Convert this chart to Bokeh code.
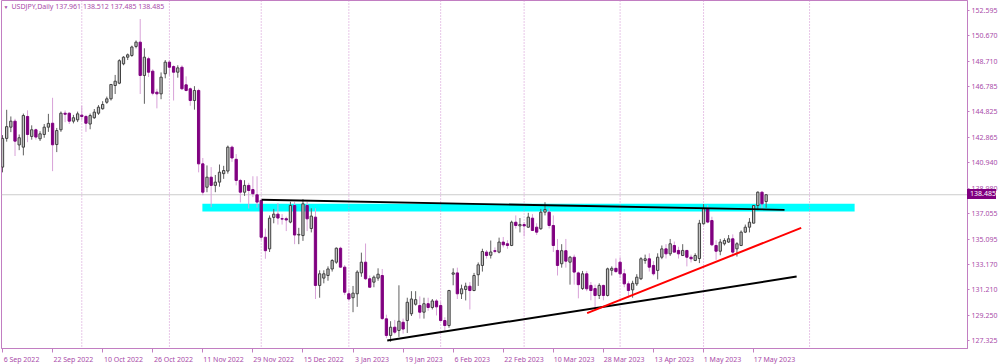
from bokeh.plotting import figure
from bokeh.models import (Range1d, FixedTicker, LinearAxis, PrintfTickFormatter,
                          Span, BoxAnnotation, Label, ColumnDataSource, Div)
from bokeh.embed import file_html
from bokeh.resources import INLINE

# ---------------- data ----------------
symbol_title = "USDJPY,Daily"
title_ohlc = "137.961 138.512 137.485 138.485"

opens = [140.60, 142.80, 143.66, 144.12, 142.30, 142.13, 144.48, 142.95, 143.46, 142.77,
         143.10, 143.66, 143.96, 142.33, 143.46, 144.73, 144.73, 144.12, 144.22, 144.58,
         144.48, 143.90, 144.38, 144.73, 145.07, 145.57, 145.83, 146.85, 147.03, 148.51,
         149.02, 149.15, 149.84, 150.17, 147.62, 148.90, 147.95, 146.34, 146.21, 147.75,
         148.64, 148.30, 147.87, 148.25, 146.90, 146.60, 145.70, 146.47, 140.85, 139.06,
         139.83, 139.20, 139.45, 140.10, 140.30, 142.13, 141.20, 139.58, 138.68, 139.20,
         138.88, 138.48, 138.05, 135.23, 134.34, 136.75, 137.00, 136.65, 136.65, 136.39,
         137.66, 135.40, 135.36, 137.66, 135.90, 136.77, 131.54, 132.10, 132.30, 132.80,
         133.32, 134.39, 132.94, 130.90, 130.60, 130.90, 132.50, 133.32, 132.05, 131.79,
         132.10, 132.30, 128.98, 127.71, 128.34, 128.09, 128.72, 128.85, 129.37, 130.10,
         130.00, 129.49, 130.14, 129.85, 130.35, 130.00, 128.85, 128.47, 132.40, 132.50,
         130.90, 131.23, 131.48, 131.15, 132.36, 133.07, 134.09, 133.85, 134.20, 134.09,
         134.86, 134.73, 134.60, 136.38, 136.10, 136.20, 136.00, 136.69, 136.00, 135.88,
         137.15, 137.15, 136.13, 134.22, 133.20, 134.20, 133.32, 133.70, 132.50, 131.30,
         132.43, 131.54, 131.30, 130.77, 131.54, 130.77, 132.70, 132.85, 133.32, 132.43,
         131.66, 131.20, 131.66, 132.05, 133.45, 133.58, 133.07, 132.69, 133.70, 134.34,
         133.96, 134.60, 134.22, 133.83, 134.22, 133.70, 133.45, 133.60, 136.26, 137.41,
         136.51, 134.60, 134.16, 134.73, 134.86, 135.11, 134.34, 134.60, 135.62, 136.00,
         136.31, 137.66, 138.68, 137.961]
highs = [143.05, 144.99, 144.48, 144.30, 143.10, 144.70, 144.95, 143.80, 143.55, 143.35,
         143.90, 144.68, 145.91, 143.60, 144.86, 144.94, 144.80, 144.60, 144.85, 145.30,
         144.60, 144.70, 145.05, 145.35, 145.65, 146.00, 146.95, 147.66, 148.86, 149.10,
         149.30, 149.90, 150.30, 151.94, 149.70, 149.05, 148.10, 146.60, 147.85, 148.80,
         148.80, 148.40, 148.40, 148.40, 147.55, 146.70, 146.80, 146.60, 141.30, 140.73,
         140.60, 140.00, 140.80, 140.70, 142.25, 142.25, 141.60, 139.70, 139.60, 139.40,
         139.90, 139.90, 138.15, 135.90, 136.90, 137.40, 137.85, 137.00, 136.80, 137.95,
         137.95, 135.95, 138.15, 137.95, 137.45, 137.45, 132.70, 132.70, 133.00, 133.55,
         134.45, 134.50, 133.10, 131.20, 131.50, 132.70, 134.05, 134.75, 132.30, 132.30,
         132.85, 132.80, 129.30, 128.80, 128.90, 131.55, 129.00, 130.60, 131.10, 131.10,
         130.70, 130.60, 130.60, 130.50, 130.50, 130.30, 129.10, 131.20, 132.85, 132.90,
         131.60, 131.75, 131.80, 132.50, 133.30, 134.35, 134.25, 134.98, 134.45, 135.20,
         135.25, 135.00, 136.50, 136.90, 136.70, 136.40, 137.10, 137.00, 136.30, 137.40,
         137.91, 137.45, 136.90, 135.10, 134.70, 135.10, 133.80, 133.90, 132.60, 132.65,
         132.65, 131.80, 131.60, 131.70, 131.60, 132.90, 133.00, 133.60, 133.70, 132.80,
         131.85, 131.90, 132.40, 133.70, 133.90, 134.00, 133.40, 134.00, 134.60, 134.70,
         135.10, 134.90, 134.50, 134.70, 134.25, 133.90, 134.00, 136.56, 137.77, 137.70,
         136.80, 135.00, 135.10, 135.15, 135.40, 135.45, 134.85, 135.75, 136.20, 136.70,
         137.70, 138.74, 138.75, 138.512]
lows = [140.20, 142.55, 143.28, 141.45, 141.90, 141.50, 142.51, 142.70, 142.70, 142.60,
        142.85, 143.30, 140.29, 141.75, 143.30, 144.04, 143.90, 143.95, 144.05, 144.20,
        143.30, 143.50, 144.30, 144.60, 145.00, 145.45, 145.70, 146.20, 146.95, 148.40,
        148.80, 149.05, 149.70, 146.20, 145.45, 147.50, 146.10, 145.10, 145.80, 147.40,
        147.60, 145.70, 147.45, 146.50, 146.40, 145.30, 145.00, 140.20, 138.45, 138.68,
        137.53, 138.68, 139.10, 139.70, 140.10, 141.00, 139.20, 137.90, 138.40, 137.43,
        138.30, 137.50, 135.00, 133.58, 134.10, 136.30, 136.20, 136.20, 135.70, 136.30,
        134.70, 134.70, 134.95, 135.70, 135.60, 130.50, 130.60, 131.70, 131.90, 132.60,
        133.20, 132.90, 130.80, 130.40, 129.49, 129.90, 132.20, 131.95, 131.40, 131.40,
        131.90, 128.90, 127.50, 127.22, 127.80, 127.60, 127.85, 127.90, 129.20, 130.00,
        129.00, 129.00, 129.60, 129.70, 129.24, 128.80, 128.08, 128.30, 131.55, 130.50,
        130.50, 130.39, 129.70, 131.10, 131.50, 132.60, 133.60, 133.60, 134.00, 134.00,
        134.45, 134.35, 134.55, 135.90, 135.60, 135.30, 135.95, 135.70, 135.40, 135.80,
        136.90, 135.90, 134.10, 132.30, 132.90, 132.90, 131.60, 131.60, 130.55, 131.20,
        131.10, 130.40, 129.64, 130.50, 130.40, 130.70, 132.30, 132.50, 132.10, 131.40,
        130.60, 130.60, 131.50, 131.95, 133.20, 132.60, 132.30, 132.00, 133.55, 133.60,
        133.80, 134.10, 133.60, 133.80, 133.00, 133.30, 133.40, 133.25, 136.20, 136.30,
        134.55, 133.50, 133.85, 134.60, 134.80, 133.75, 133.75, 134.55, 135.55, 135.60,
        136.30, 137.30, 137.40, 137.485]
closes = [142.80, 143.70, 144.12, 142.59, 142.85, 144.55, 143.10, 143.46, 142.90, 143.15,
          143.66, 143.95, 142.31, 143.40, 144.73, 144.65, 144.12, 144.38, 144.68, 144.48,
          143.96, 144.55, 144.81, 145.19, 145.40, 145.83, 146.93, 147.18, 148.75, 149.02,
          149.20, 149.80, 150.17, 147.62, 149.02, 147.87, 146.26, 146.21, 147.49, 148.64,
          148.25, 147.87, 148.20, 146.60, 146.47, 145.70, 146.47, 140.85, 138.68, 139.83,
          139.20, 139.45, 140.21, 140.34, 142.13, 141.30, 139.58, 138.68, 139.20, 138.81,
          138.56, 137.92, 135.23, 134.20, 136.69, 137.00, 136.70, 136.62, 136.55, 137.66,
          135.40, 135.45, 137.79, 136.64, 136.85, 131.54, 132.43, 132.43, 132.80, 133.45,
          134.39, 132.94, 131.02, 130.50, 130.95, 132.56, 133.32, 132.05, 131.40, 132.17,
          132.40, 129.00, 127.71, 128.34, 127.96, 128.80, 128.20, 130.25, 130.50, 130.45,
          129.49, 130.14, 129.85, 130.35, 129.90, 128.85, 128.47, 131.15, 132.50, 130.90,
          131.28, 131.48, 131.15, 132.30, 133.12, 134.14, 133.83, 134.10, 134.15, 134.86,
          134.65, 134.60, 136.38, 136.13, 136.20, 136.10, 136.77, 135.75, 135.62, 137.15,
          137.35, 136.13, 134.60, 133.07, 134.20, 133.40, 133.70, 132.56, 131.60, 132.43,
          131.28, 131.15, 130.77, 131.54, 130.77, 132.81, 132.85, 132.60, 132.43, 131.66,
          131.15, 131.70, 132.17, 133.58, 133.58, 132.94, 132.43, 133.70, 134.34, 133.96,
          134.73, 134.09, 133.96, 134.22, 133.70, 133.58, 133.83, 136.30, 137.41, 136.39,
          134.65, 134.16, 134.86, 134.98, 135.11, 134.09, 134.73, 135.62, 136.00, 136.38,
          137.66, 138.68, 137.79, 138.485]

date_labels = ["6 Sep 2022", "22 Sep 2022", "10 Oct 2022", "26 Oct 2022", "11 Nov 2022",
               "29 Nov 2022", "15 Dec 2022", "3 Jan 2023", "19 Jan 2023", "6 Feb 2023",
               "22 Feb 2023", "10 Mar 2023", "28 Mar 2023", "13 Apr 2023", "1 May 2023",
               "17 May 2023"]
label_every = 12
price_ticks = [152.595, 150.670, 148.710, 146.785, 144.825, 142.865, 140.940, 138.980,
               137.055, 135.095, 133.170, 131.210, 129.250, 127.325]
month_start_idx = [19, 40, 62, 83, 105, 125, 148, 168, 193.4]
last_price = 138.485

zone_idx = [47.9, 204.2]
zone_price = [137.20, 137.79]
resist_idx = [62.1, 187.4]
resist_price = [138.10, 137.33]
support_idx = [92.2, 190.3]
support_price = [127.32, 132.22]
red_idx = [140.1, 191.4]
red_price = [129.42, 135.95]

# ---------------- styling ----------------
FW, FH = 966, 348          # frame size in px
BL = 1                     # left border
X0, X1 = -0.24, 231.25
Y0, Y1 = 126.71, 153.36
TXT = "#A94BA9"
BORDER = "#C27EC2"
SEP = "#D08ED0"
FONT = "Noto Sans"
FS = "7px"

BULL_FILL, BULL_EDGE, BULL_WICK = "#C4C4C4", "#404040", "#606060"
BEAR_FILL, BEAR_EDGE, BEAR_WICK = "#800080", "#800080", "#D8A2D8"

n = len(opens)
xs = list(range(n))
is_bull = [c >= o for o, c in zip(opens, closes)]
src = ColumnDataSource(dict(
    x=xs, open=opens, high=highs, low=lows, close=closes,
    top=[max(o, c) for o, c in zip(opens, closes)],
    bottom=[min(o, c) for o, c in zip(opens, closes)],
    fill=[BULL_FILL if b else BEAR_FILL for b in is_bull],
    edge=[BULL_EDGE if b else BEAR_EDGE for b in is_bull],
    wick=[BULL_WICK if b else BEAR_WICK for b in is_bull],
))

p = figure(frame_width=FW, frame_height=FH, output_backend="svg", toolbar_location=None,
           x_range=Range1d(X0, X1), y_range=Range1d(Y0, Y1),
           x_axis_location=None, y_axis_location=None,
           min_border_left=BL, min_border_top=0, min_border_right=0, min_border_bottom=0)
p.grid.visible = False
p.outline_line_color = BORDER
p.outline_line_width = 1
p.background_fill_color = "white"
p.border_fill_color = "white"


def style_axis(ax):
    ax.axis_label = None
    ax.axis_label_standoff = 0
    ax.major_label_text_font = FONT
    ax.major_label_text_font_size = FS
    ax.major_label_text_color = TXT


# right price axis
yaxis = LinearAxis(ticker=FixedTicker(ticks=price_ticks),
                   formatter=PrintfTickFormatter(format="%.3f"))
style_axis(yaxis)
yaxis.axis_line_color = BORDER
yaxis.major_tick_line_color = BORDER
yaxis.major_tick_out = 2
yaxis.major_tick_in = 0
yaxis.minor_tick_line_color = None
yaxis.major_label_standoff = 2
p.add_layout(yaxis, "right")

# bottom date axis: labels start at the tick (left-aligned like the terminal)
ppu = FW / (X1 - X0)
tick_pos = [i * label_every for i in range(len(date_labels))]
label_pos = []
for t, lab in zip(tick_pos, date_labels):
    off = (1.5 + 3.5 * len(lab) / 2.0) / ppu
    label_pos.append(round(t + off, 3) + 0.0005)
xaxis = LinearAxis(ticker=FixedTicker(ticks=label_pos, minor_ticks=tick_pos),
                   major_label_overrides={lp: lab for lp, lab in zip(label_pos, date_labels)})
style_axis(xaxis)
xaxis.axis_line_color = BORDER
xaxis.major_tick_line_color = None
xaxis.major_tick_out = 0
xaxis.major_tick_in = 0
xaxis.minor_tick_line_color = BORDER
xaxis.minor_tick_out = 4
xaxis.minor_tick_in = 0
xaxis.major_label_standoff = 2
p.add_layout(xaxis, "below")

# background objects
p.add_layout(BoxAnnotation(left=zone_idx[0], right=zone_idx[1], bottom=zone_price[0],
                           top=zone_price[1], fill_color="#00FFFF", fill_alpha=1.0,
                           line_alpha=0, level="underlay"))
p.add_layout(Span(location=last_price, dimension="width", line_color="#CCCCCC",
                  line_width=1, level="underlay"))
for m in month_start_idx:
    p.add_layout(Span(location=m, dimension="height", line_color=SEP, line_width=1,
                      line_dash="1 2", level="underlay"))

# candles
p.segment(x0="x", y0="low", x1="x", y1="high", line_color="wick", line_width=1, source=src)
p.vbar(x="x", width=0.55, top="top", bottom="bottom", fill_color="fill",
       line_color="edge", line_width=1, source=src)

# trend lines
p.line(resist_idx, resist_price, line_color="black", line_width=1.8)
p.line(support_idx, support_price, line_color="black", line_width=2)
p.line(red_idx, red_price, line_color="#FF0000", line_width=2)

# title
p.add_layout(Label(x=X0, y=Y1, x_offset=2, y_offset=-6, text="\u25BC",
                   text_font=FONT, text_font_size="5px", text_color=TXT,
                   text_baseline="middle"))
p.add_layout(Label(x=X0, y=Y1, x_offset=10, y_offset=-5.5,
                   text=symbol_title + "  " + title_ohlc,
                   text_font=FONT, text_font_size=FS, text_color=TXT,
                   text_baseline="middle"))

# current price tag sitting on the price scale (floating DOM element of the plot)
if "elements" in p.properties():
    tag_top = (Y1 - last_price) / (Y1 - Y0) * FH - 5
    tag = Div(text=f"{last_price:.3f}", width=31, height=10,
              styles={"position": "absolute", "left": f"{BL + FW}px", "top": f"{tag_top:.1f}px",
                      "background-color": "#800080", "color": "white",
                      "font-family": FONT, "font-size": FS, "line-height": "10px",
                      "padding": "0px 0px 0px 3px", "z-index": "10", "overflow": "hidden",
                      "white-space": "nowrap"})
    p.elements = [tag]

open("out.html", "w").write(file_html(p, INLINE))
